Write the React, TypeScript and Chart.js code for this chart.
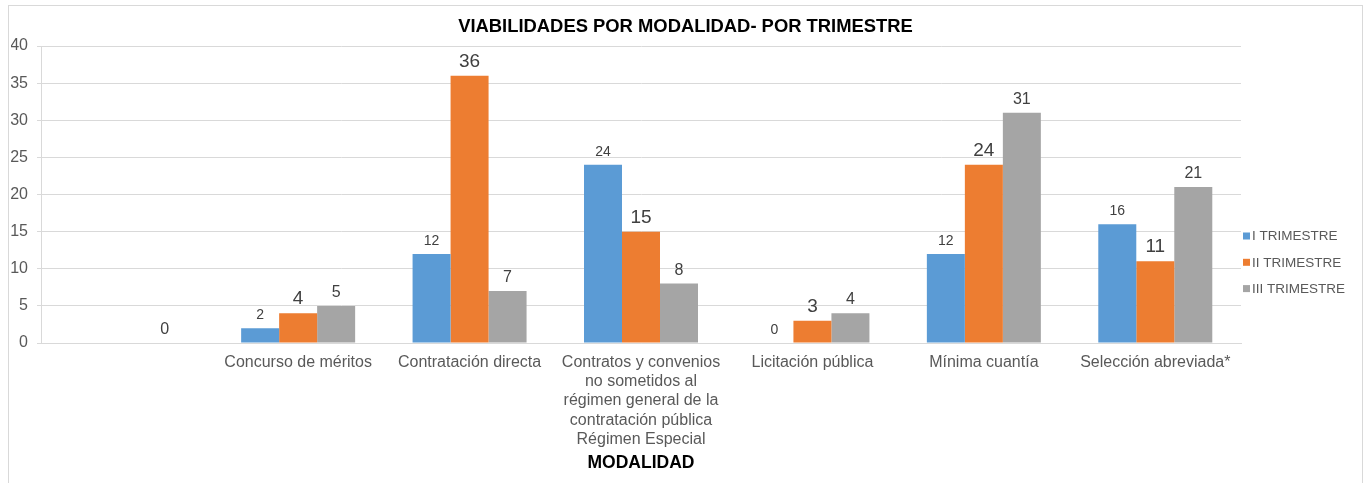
import React, { useEffect, useRef } from "react";
import { Chart, registerables } from "chart.js";

Chart.register(...registerables);

const FONT = '"Liberation Sans", Arial, sans-serif';

const categories: (string | string[])[] = [
  "",
  "Concurso de méritos",
  "Contratación directa",
  [
    "Contratos y convenios",
    "no sometidos al",
    "régimen general de la",
    "contratación pública",
    "Régimen Especial",
  ],
  "Licitación pública",
  "Mínima cuantía",
  "Selección abreviada*",
];

const seriesNames = ["I TRIMESTRE", "II TRIMESTRE", "III TRIMESTRE"];
const trimestreI = [null, 2, 12, 24, 0, 12, 16];
const trimestreII = [null, 4, 36, 15, 3, 24, 11];
const trimestreIII = [0, 5, 7, 8, 4, 31, 21];

const seriesColors = ["#5B9BD5", "#ED7D31", "#A5A5A5"];
const labelFontSizes = [14, 19, 16];

const chartTitle = "VIABILIDADES POR MODALIDAD- POR TRIMESTRE";
const xAxisTitle = "MODALIDAD";
const yMin = 0;
const yMax = 40;
const yStep = 5;

const dataLabelsPlugin = {
  id: "dataLabels",
  afterDatasetsDraw(chart: any) {
    const ctx = chart.ctx;
    chart.data.datasets.forEach((ds: any, i: number) => {
      const meta = chart.getDatasetMeta(i);
      meta.data.forEach((el: any, j: number) => {
        const v = ds.data[j];
        if (v === null || v === undefined) return;
        ctx.save();
        ctx.font = `${labelFontSizes[i]}px ${FONT}`;
        ctx.fillStyle = "#404040";
        ctx.textAlign = "center";
        ctx.textBaseline = "alphabetic";
        ctx.fillText(String(v), el.x, el.y - 9);
        ctx.restore();
      });
    });
  },
};

const sideLegendPlugin = {
  id: "sideLegend",
  afterDraw(chart: any) {
    const { ctx, chartArea } = chart;
    const x = chartArea.right + 2;
    seriesNames.forEach((name, i) => {
      const y = 230 + i * 26.3;
      ctx.save();
      ctx.fillStyle = seriesColors[i];
      ctx.fillRect(x, y - 3.5, 7, 7);
      ctx.fillStyle = "#595959";
      ctx.font = `13.5px ${FONT}`;
      ctx.textAlign = "left";
      ctx.textBaseline = "middle";
      ctx.fillText(name, x + 9, y + 0.5);
      ctx.restore();
    });
  },
};

const frameTitlePlugin = {
  id: "frameTitle",
  afterDraw(chart: any) {
    const { ctx, width } = chart;
    ctx.save();
    ctx.font = `bold 18.4px ${FONT}`;
    ctx.fillStyle = "#000000";
    ctx.textAlign = "center";
    ctx.textBaseline = "middle";
    ctx.fillText(chartTitle, width / 2, 21);
    ctx.restore();
  },
};

export default function App() {
  const ref = useRef<HTMLCanvasElement>(null);

  useEffect(() => {
    if (!ref.current) return;
    const chart = new Chart(ref.current, {
      type: "bar",
      data: {
        labels: categories,
        datasets: [
          { label: seriesNames[0], data: trimestreI, backgroundColor: seriesColors[0] },
          { label: seriesNames[1], data: trimestreII, backgroundColor: seriesColors[1] },
          { label: seriesNames[2], data: trimestreIII, backgroundColor: seriesColors[2] },
        ] as any,
      },
      options: {
        responsive: false,
        animation: false,
        devicePixelRatio: 1,
        layout: { padding: { left: 2, right: 121, top: 40, bottom: 9 } },
        datasets: {
          bar: { barPercentage: 1, categoryPercentage: 0.665, borderWidth: 0 },
        } as any,
        plugins: {
          legend: { display: false },
          tooltip: { enabled: false },
          title: { display: false },
        },
        scales: {
          x: {
            grid: { display: false, drawTicks: false },
            border: { display: true, color: "#d9d9d9" },
            ticks: {
              color: "#595959",
              font: { family: FONT, size: 16 },
              padding: 10,
              autoSkip: false,
              maxRotation: 0,
              minRotation: 0,
            },
            title: {
              display: true,
              text: xAxisTitle,
              color: "#000000",
              font: { family: FONT, size: 17.5, weight: "bold" },
              padding: { top: 5, bottom: 0 },
            },
            afterFit(scale: any) {
              scale.height = 131;
            },
          },
          y: {
            min: yMin,
            max: yMax,
            ticks: {
              stepSize: yStep,
              color: "#595959",
              font: { family: FONT, size: 16 },
              padding: 9,
            },
            grid: { color: "#d9d9d9", tickLength: 4, drawTicks: true },
            border: { display: true, color: "#d9d9d9" },
            afterFit(scale: any) {
              scale.width = 30;
            },
          },
        },
      },
      plugins: [dataLabelsPlugin, sideLegendPlugin, frameTitlePlugin],
    });
    return () => chart.destroy();
  }, []);

  return (
    <div
      style={{
        position: "absolute",
        left: 8,
        top: 5,
        width: 1353,
        height: 477,
        borderTop: "1px solid #d9d9d9",
        borderLeft: "1px solid #d9d9d9",
        borderRight: "1px solid #d9d9d9",
        background: "#ffffff",
      }}
    >
      <canvas
        ref={ref}
        width={1353}
        height={477}
        style={{ display: "block", width: 1353, height: 477 }}
      />
    </div>
  );
}
